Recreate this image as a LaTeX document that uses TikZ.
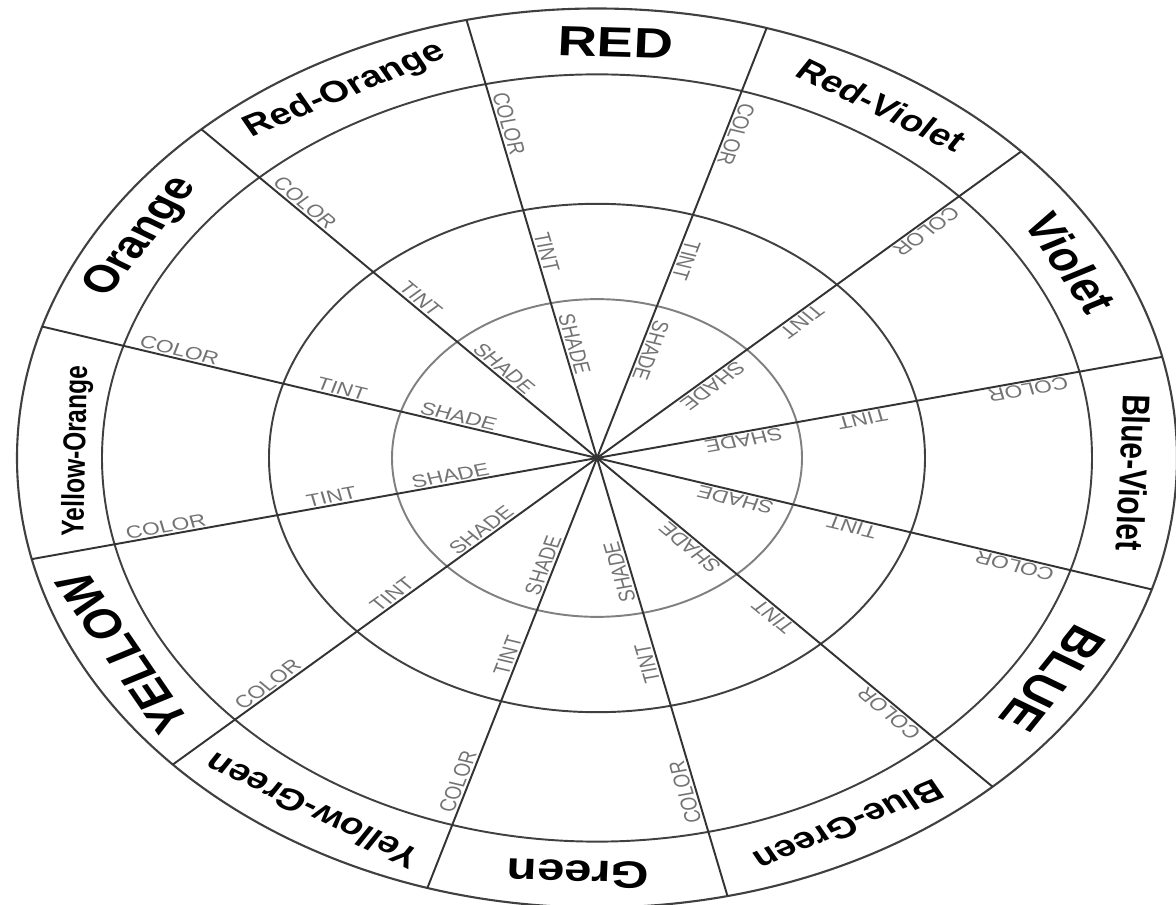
\documentclass[tikz,border=0pt]{standalone}
\usepackage{fontspec}
\setmainfont{Liberation Sans}
\usetikzlibrary{positioning}

\tikzset{
  rim/.style={draw=black!75, line width=1.2pt},
  band/.style={draw=black!75, line width=1.1pt},
  core/.style={draw=black!50, line width=1.1pt},
  spoke/.style={draw=black!80, line width=1.1pt},
  hub/.style={circle, fill=black, inner sep=0pt, minimum size=4pt},
  hue/.style={font=\bfseries\fontsize{#1}{#1}\selectfont, inner sep=0pt},
  tone/.style={font=\fontsize{13}{13}\selectfont, text=black!55, inner sep=1.5pt, anchor=south}
}

\begin{document}
\begin{tikzpicture}[x=0.02cm, y=0.02cm]
  \useasboundingbox (-597,-447) rectangle (579,458);

  % wheel seen at a slant
  \begin{scope}[yscale=0.775, transform shape]
    \draw[rim] (0,0) circle (580);
    \draw[band] (0,0) circle (495);
    \draw[band] (0,0) circle (328);
    \draw[core] (0,0) circle (205);

    \node[hub] (hub) at (0,0) {};
    \foreach \ang in {13,43,...,343}
      \draw[spoke] (hub.center) -- (\ang:580);

    % hue names in the outer band
    \foreach \ang/\rad/\name/\txt/\sz in {88/537/red/RED/31, 58/537/redviolet/Red-Violet/22,
        28/537/violet/Violet/29, -2/537/blueviolet/Blue-Violet/22, -32/537/blue/BLUE/31,
        -62/537/bluegreen/Blue-Green/22, -92/537/green/Green/28, -122/537/yellowgreen/Yellow-Green/22,
        -152/537/yellow/YELLOW/30, 179/520/yelloworange/Yellow-Orange/18,
        148/537/orange/Orange/28, 118/537/redorange/Red-Orange/22}
      \node[hue=\sz, rotate=\ang-90] (\name) at (\ang:\rad) {\txt};

    % color / tint / shade along each spoke
    \foreach \ang [count=\k] in {13,43,...,343} {
      \node[tone, rotate=\ang+180] (color\k) at (\ang:440) {COLOR};
      \node[tone, rotate=\ang+180] (tint\k) at (\ang:270) {TINT};
      \node[tone, rotate=\ang+180] (shade\k) at (\ang:148) {SHADE};
    }
  \end{scope}
\end{tikzpicture}
\end{document}
